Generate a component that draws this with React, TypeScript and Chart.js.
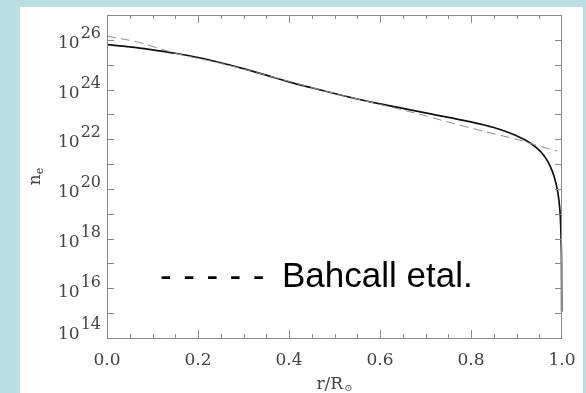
import React, { useEffect, useRef } from "react";
import { Chart, registerables } from "chart.js";

Chart.register(...registerables);

// Model electron density: r/R_sun and log10(n_e)
const modelR = [0, 0.05, 0.1, 0.15, 0.2, 0.25, 0.3, 0.35, 0.4, 0.45, 0.5, 0.55, 0.6, 0.65, 0.7, 0.75, 0.8, 0.85, 0.9, 0.93, 0.952, 0.965, 0.975, 0.982, 0.988, 0.992, 0.995, 0.997, 0.9982, 0.999, 0.9993];
const modelLogNe = [25.81, 25.72, 25.6, 25.46, 25.29, 25.08, 24.84, 24.58, 24.31, 24.07, 23.84, 23.62, 23.42, 23.24, 23.06, 22.88, 22.7, 22.47, 22.14, 21.85, 21.52, 21.22, 20.88, 20.54, 20.12, 19.72, 19.22, 18.62, 17.82, 16.8, 15.06];

// Bahcall et al. reference (dashed)
const bahcallR = [0, 0.07, 0.11, 0.15, 0.25, 0.35, 0.45, 0.55, 0.62, 0.688, 0.76, 0.835, 0.907, 0.952, 0.99];
const bahcallLogNe = [26.15, 25.9, 25.68, 25.46, 25.05, 24.58, 24.08, 23.62, 23.31, 23.0, 22.64, 22.29, 21.96, 21.71, 21.52];

const xTickValues = [0, 0.2, 0.4, 0.6, 0.8, 1.0];
const yLabelExponents = [14, 16, 18, 20, 22, 24, 26];
const yTickExponents = [15, 16, 17, 18, 19, 20, 21, 22, 23, 24, 25, 26];

const SERIF = "'DejaVu Serif', serif";
const AXIS_COLOR = "#8a8a8a";
const LABEL_COLOR = "#444";

const decorPlugin = {
  id: "decor",
  afterDraw(chart: any) {
    const ctx = chart.ctx;
    const { left, right, top, bottom } = chart.chartArea;
    const xs = chart.scales.x;
    const ys = chart.scales.y;
    ctx.save();
    // frame
    ctx.strokeStyle = AXIS_COLOR;
    ctx.lineWidth = 1;
    ctx.strokeRect(Math.round(left) + 0.5, Math.round(top) + 0.5, Math.round(right - left) - 1, Math.round(bottom - top));
    // x ticks (top and bottom)
    ctx.beginPath();
    for (let i = 1; i < 20; i++) {
      const px = Math.round(xs.getPixelForValue(i / 20)) + 0.5;
      const len = i % 4 === 0 ? 8 : 4;
      ctx.moveTo(px, bottom);
      ctx.lineTo(px, bottom - len);
      ctx.moveTo(px, top);
      ctx.lineTo(px, top + len);
    }
    // y ticks (left and right)
    for (const k of yTickExponents) {
      const py = Math.round(ys.getPixelForValue(Math.pow(10, k))) + 0.5;
      ctx.moveTo(left, py);
      ctx.lineTo(left + 7, py);
      ctx.moveTo(right, py);
      ctx.lineTo(right - 7, py);
    }
    ctx.stroke();

    // y labels 10^k
    ctx.fillStyle = LABEL_COLOR;
    ctx.textAlign = "right";
    ctx.textBaseline = "alphabetic";
    for (const k of yLabelExponents) {
      let py = ys.getPixelForValue(Math.pow(10, k));
      if (k === 14) py -= 7;
      const base10 = py + 2 + 6.2;
      ctx.font = `16px ${SERIF}`;
      const expStr = String(k);
      const ew = ctx.measureText(expStr).width;
      ctx.fillText(expStr, 81, base10 - 10);
      ctx.font = `17px ${SERIF}`;
      ctx.fillText("10", 81 - ew - 1, base10);
    }

    // x title r/R_sun
    ctx.textAlign = "left";
    ctx.font = `17px ${SERIF}`;
    const t1 = "r/R";
    const w1 = ctx.measureText(t1).width;
    ctx.font = `10px ${SERIF}`;
    const t2 = "\u2299";
    const w2 = ctx.measureText(t2).width;
    const cx = (left + right) / 2;
    const x0 = cx - (w1 + w2 + 1) / 2;
    ctx.font = `17px ${SERIF}`;
    ctx.fillText(t1, x0, 382);
    ctx.font = `10px ${SERIF}`;
    ctx.fillText(t2, x0 + w1 + 1, 384);

    // y title n_e
    ctx.save();
    ctx.translate(20, (top + bottom) / 2);
    ctx.rotate(-Math.PI / 2);
    ctx.font = `17px ${SERIF}`;
    const nw = ctx.measureText("n").width;
    ctx.font = `11px ${SERIF}`;
    const ew2 = ctx.measureText("e").width;
    const sx = -(nw + ew2) / 2;
    ctx.font = `17px ${SERIF}`;
    ctx.fillText("n", sx, 0);
    ctx.font = `11px ${SERIF}`;
    ctx.fillText("e", sx + nw, 3);
    ctx.restore();

    // legend annotation
    ctx.fillStyle = "#000";
    ctx.font = "35px 'Liberation Sans', Arial, sans-serif";
    for (let i = 0; i < 5; i++) {
      ctx.fillText("-", 140 + i * 23.2, 280);
    }
    ctx.fillText("Bahcall etal.", 262, 280);
    ctx.restore();
  },
};

export default function App() {
  const ref = useRef<HTMLCanvasElement | null>(null);
  useEffect(() => {
    if (!ref.current) return;
    const chart = new Chart(ref.current, {
      type: "scatter",
      data: {
        datasets: [
          {
            label: "Bahcall etal.",
            data: bahcallR.map((r, i) => ({ x: r, y: Math.pow(10, bahcallLogNe[i]) })),
            showLine: true,
            borderColor: "#8f8f8f",
            borderWidth: 1,
            borderDash: [9, 5],
            pointRadius: 0,
            cubicInterpolationMode: "monotone",
          },
          {
            label: "model",
            data: modelR.map((r, i) => ({ x: r, y: Math.pow(10, modelLogNe[i]) })),
            showLine: true,
            borderColor: "#111",
            borderWidth: 1.7,
            pointRadius: 0,
            clip: 2,
            cubicInterpolationMode: "monotone",
          },
        ],
      },
      options: {
        animation: false,
        responsive: false,
        layout: { padding: { top: 8, right: 21, left: 0, bottom: 0 } },
        plugins: { legend: { display: false }, tooltip: { enabled: false } },
        scales: {
          x: {
            type: "linear",
            min: 0,
            max: 1,
            afterBuildTicks: (s: any) => {
              s.ticks = xTickValues.map((v) => ({ value: v }));
            },
            afterFit: (s: any) => {
              s.height = 55;
              s.paddingLeft = 0;
              s.paddingRight = 0;
            },
            ticks: {
              callback: (v: any) => Number(v).toFixed(1),
              font: { family: "DejaVu Serif", size: 17 },
              color: LABEL_COLOR,
              padding: 12,
              maxRotation: 0,
              autoSkip: false,
            },
            grid: { display: false, drawTicks: false },
            border: { display: false },
          },
          y: {
            type: "logarithmic",
            min: 1e14,
            max: 1e27,
            afterFit: (s: any) => {
              s.width = 87;
              s.paddingTop = 0;
              s.paddingBottom = 0;
            },
            ticks: { display: false },
            grid: { display: false, drawTicks: false },
            border: { display: false },
          },
        },
      },
      plugins: [decorPlugin],
    } as any);
    return () => chart.destroy();
  }, []);

  return (
    <div style={{ position: "fixed", left: 0, top: 0, width: 586, height: 393, background: "#b9dfe3", overflow: "hidden" }}>
      <div style={{ position: "absolute", left: 20, top: 7, width: 563, height: 386, background: "#fff" }}>
        <canvas ref={ref} width={563} height={386} style={{ display: "block" }} />
      </div>
    </div>
  );
}
